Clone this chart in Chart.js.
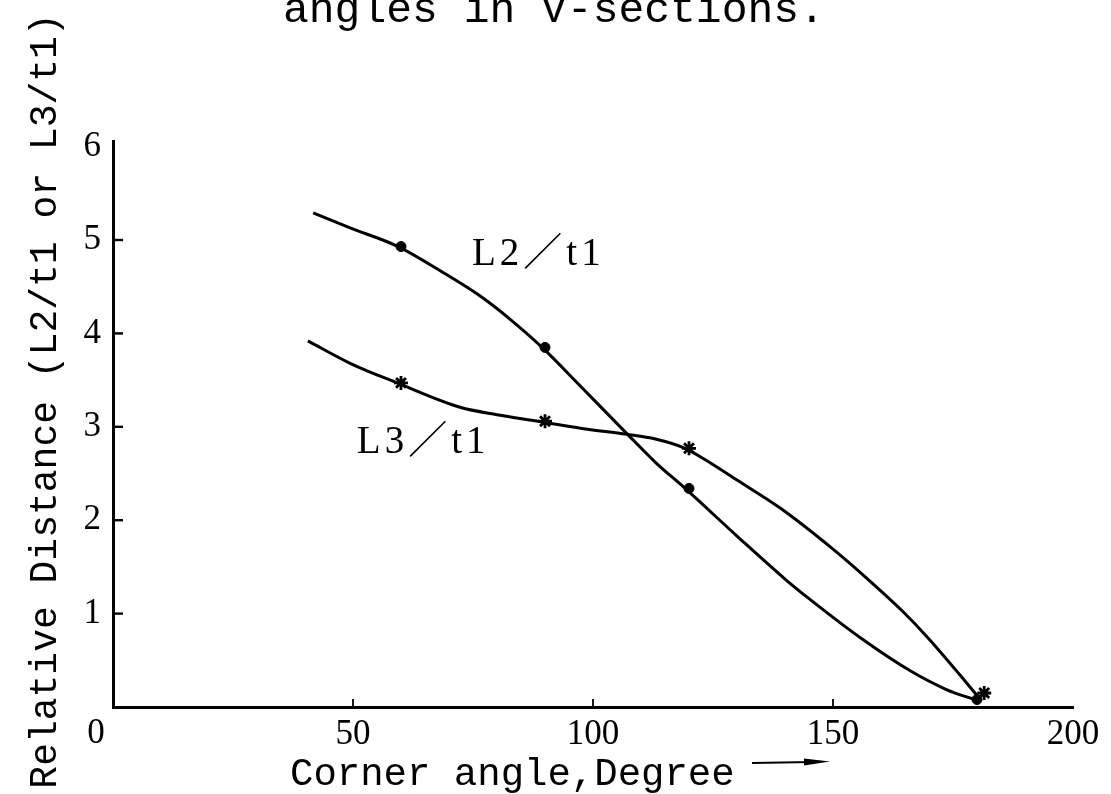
<!DOCTYPE html>
<html>
<head>
<meta charset="utf-8">
<script src="https://cdn.jsdelivr.net/npm/chart.js@4.4.1/dist/chart.umd.min.js"></script>
<style>
html,body{margin:0;padding:0;background:#fff;}
canvas{display:block;}
</style>
</head>
<body>
<canvas id="c" width="1111" height="794"></canvas>
<script>
// Hand-drawn curves: corner angle (deg) and relative distance along each line
const l2CurveAngle = [41.7, 49.4, 59.4, 68.5, 76.5, 83, 89.4, 97.3, 107, 113, 119.2, 130, 140, 145, 156, 166, 173.5, 180];
const l2CurveValue = [5.29, 5.13, 4.93, 4.66, 4.40, 4.14, 3.85, 3.44, 2.93, 2.62, 2.34, 1.83, 1.37, 1.16, 0.73, 0.39, 0.19, 0.07];
const l3CurveAngle = [40.6, 49.4, 59.2, 72.3, 80, 88.5, 98, 107, 113, 119.2, 123.3, 130, 139, 150, 157, 164.4, 169.8, 176.5, 180.2];
const l3CurveValue = [3.92, 3.68, 3.47, 3.21, 3.13, 3.06, 2.98, 2.92, 2.87, 2.77, 2.65, 2.43, 2.13, 1.69, 1.38, 1.03, 0.74, 0.34, 0.11];

// Measured points marked on each curve
const l2PointAngle = [60, 90, 120, 180];
const l2PointValue = [4.93, 3.85, 2.34, 0.08];
const l3PointAngle = [60, 90, 120, 181.5];
const l3PointValue = [3.47, 3.06, 2.77, 0.15];

// Axis ticks and texts
const xTicks = [50, 100, 150, 200];
const yTicks = [1, 2, 3, 4, 5, 6];
const originLabel = '0';
const captionText = 'angles in V-sections.';
const xTitle = 'Corner angle,Degree';
const yTitle = 'Relative Distance (L2/t1 or L3/t1)';
const l2Label = 'L2／t1';
const l3Label = 'L3／t1';

const pts = (xs, ys) => xs.map((v, i) => ({x: v, y: ys[i]}));

const INK = '#000';
const SERIF = '"Liberation Serif", "Times New Roman", serif';
const MONO = '"Liberation Mono", "Courier New", monospace';

const decor = {
  id: 'decor',
  afterDraw(chart) {
    const {ctx, scales: {x, y}} = chart;
    ctx.save();
    ctx.strokeStyle = INK;
    ctx.fillStyle = INK;
    ctx.lineCap = 'butt';

    // inward tick marks
    ctx.lineWidth = 2.4;
    yTicks.filter(v => v < 6).forEach(v => {
      const py = y.getPixelForValue(v);
      ctx.beginPath(); ctx.moveTo(x.left, py); ctx.lineTo(x.left + 10, py); ctx.stroke();
    });
    ctx.lineWidth = 1.8;
    xTicks.filter(v => v < 200).forEach(v => {
      const px = x.getPixelForValue(v);
      ctx.beginPath(); ctx.moveTo(px, y.bottom); ctx.lineTo(px, y.bottom - 8); ctx.stroke();
    });

    // shared origin label
    ctx.font = '35px ' + SERIF;
    ctx.textAlign = 'center';
    ctx.textBaseline = 'alphabetic';
    ctx.fillText(originLabel, x.getPixelForValue(0) - 17, y.bottom + 36);

    // caption line (top of the page)
    ctx.font = '43px ' + MONO;
    ctx.textAlign = 'left';
    ctx.fillText(captionText, 283, 22);

    // x axis title and arrow
    ctx.font = '39px ' + MONO;
    ctx.textAlign = 'left';
    ctx.fillText(xTitle, 290, 785);
    ctx.lineWidth = 2.2;
    ctx.beginPath(); ctx.moveTo(752, 763); ctx.lineTo(812, 762); ctx.stroke();
    ctx.beginPath(); ctx.moveTo(804, 758.5); ctx.lineTo(830, 761.5); ctx.lineTo(804, 765.5); ctx.closePath(); ctx.fill();

    // y axis title
    ctx.save();
    ctx.translate(46, 401);
    ctx.rotate(-Math.PI / 2);
    ctx.font = '38px ' + MONO;
    ctx.textAlign = 'center';
    ctx.textBaseline = 'middle';
    ctx.fillText(yTitle, 0, 0);
    ctx.restore();

    // curve labels
    ctx.font = '39px ' + SERIF + ', "Noto Sans CJK JP"';
    ctx.textAlign = 'left';
    ctx.textBaseline = 'alphabetic';
    ctx.letterSpacing = '4px';
    ctx.fillText(l2Label, x.getPixelForValue(74.8), y.getPixelForValue(4.73));
    ctx.fillText(l3Label, x.getPixelForValue(50.8), y.getPixelForValue(2.72));
    ctx.restore();
  }
};

new Chart(document.getElementById('c'), {
  type: 'scatter',
  data: {
    datasets: [
      {label: 'L2/t1', data: pts(l2CurveAngle, l2CurveValue), showLine: true, borderColor: INK, borderWidth: 3,
       pointRadius: 0, cubicInterpolationMode: 'monotone', fill: false},
      {label: 'L3/t1', data: pts(l3CurveAngle, l3CurveValue), showLine: true, borderColor: INK, borderWidth: 3,
       pointRadius: 0, cubicInterpolationMode: 'monotone', fill: false},
      {label: 'L2/t1 points', data: pts(l2PointAngle, l2PointValue), pointStyle: 'circle', pointRadius: 5,
       backgroundColor: INK, borderColor: INK, borderWidth: 1},
      {label: 'L3/t1 points', data: pts(l3PointAngle, l3PointValue), pointStyle: 'star', pointRadius: 7,
       backgroundColor: INK, borderColor: INK, borderWidth: 2.8}
    ]
  },
  options: {
    responsive: false,
    devicePixelRatio: 1,
    animation: false,
    layout: {padding: {top: 141, right: 38, left: 0, bottom: 0}},
    plugins: {legend: {display: false}, tooltip: {enabled: false}, title: {display: false}},
    scales: {
      x: {
        type: 'linear', min: 0, max: 200,
        afterFit: s => { s.height = 87; },
        afterBuildTicks: s => { s.ticks = xTicks.map(v => ({value: v})); },
        grid: {display: false, drawTicks: false},
        border: {display: true, color: INK, width: 3},
        ticks: {color: INK, font: {family: SERIF, size: 35}, padding: 7, maxRotation: 0, autoSkip: false}
      },
      y: {
        type: 'linear', min: 0, max: 6.06,
        afterFit: s => { s.width = 113; },
        afterBuildTicks: s => { s.ticks = yTicks.map(v => ({value: v})); },
        grid: {display: false, drawTicks: false},
        border: {display: true, color: INK, width: 3},
        ticks: {color: INK, font: {family: SERIF, size: 35}, padding: 12, autoSkip: false}
      }
    }
  },
  plugins: [decor]
});
</script>
</body>
</html>
